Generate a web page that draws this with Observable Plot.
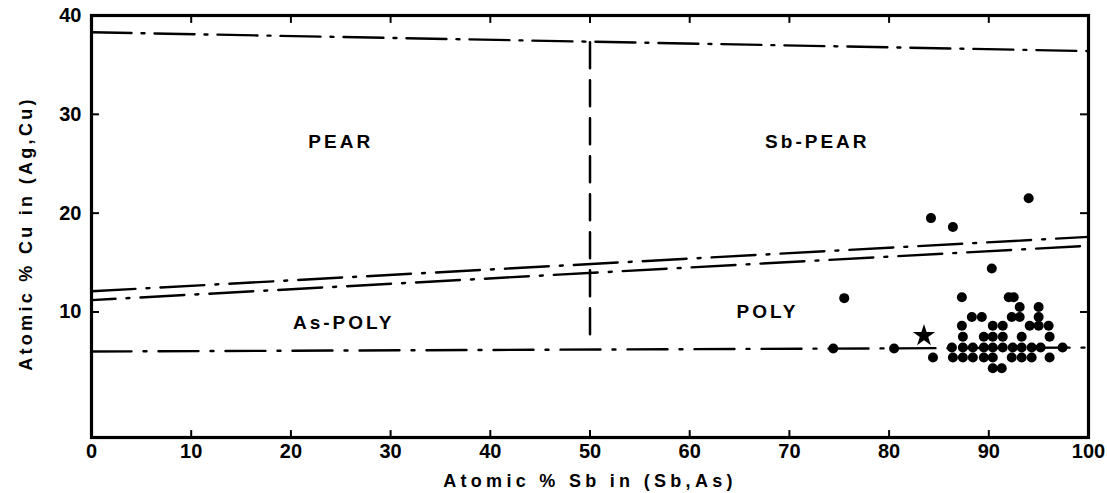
<!DOCTYPE html>
<html><head><meta charset="utf-8">
<script src="https://cdn.jsdelivr.net/npm/d3@7"></script>
<script src="https://cdn.jsdelivr.net/npm/@observablehq/plot@0.6"></script>
<style>body{margin:0;background:#fff}</style>
</head><body><div id="chart"></div>
<script>
// ---- data ----
const xTickLabels = [0, 10, 20, 30, 40, 50, 60, 70, 80, 90, 100];
const xInnerTicks = [10, 20, 30, 40, 50, 60, 70, 80, 90];
const yTickLabels = [10, 20, 30, 40];
const yInnerTicks = [10, 20, 30];

const xTitle = "Atomic % Sb in (Sb,As)";
const yTitle = "Atomic % Cu in (Ag,Cu)";

const regionNames = ["PEAR", "Sb-PEAR", "As-POLY", "POLY"];
const regionSb = [25, 72.8, 25.3, 67.8];
const regionCu = [27.2, 27.2, 8.9, 10.0];

const boundarySb = [0, 100];
const pearTopCu = [38.3, 36.4];
const polyUpperCu = [12.1, 17.6];
const polyLowerCu = [11.2, 16.7];
const polyBottomCu = [6.0, 6.4];
const divideSb = [50, 50];
const divideCu = [37.3, 6.7];

const ptSb = [74.4, 75.5, 80.5, 84.2, 86.4, 94.0, 90.3, 84.4,
  87.3, 92.0, 92.5,
  93.1, 95.0,
  88.3, 89.3, 92.3, 93.1, 95.0,
  87.3, 90.4, 91.4, 94.1, 95.0, 96.0,
  87.4, 89.5, 90.4, 91.4, 93.3, 96.1,
  86.3, 87.4, 88.4, 89.5, 90.4, 91.4, 92.4, 93.3, 94.3, 95.2, 97.4,
  86.4, 87.4, 88.4, 89.5, 90.4, 92.3, 93.3, 94.3, 96.1,
  90.4, 91.3];
const ptCu = [6.3, 11.4, 6.3, 19.5, 18.6, 21.5, 14.4, 5.4,
  11.5, 11.5, 11.5,
  10.5, 10.5,
  9.5, 9.5, 9.5, 9.5, 9.5,
  8.6, 8.6, 8.6, 8.6, 8.6, 8.6,
  7.5, 7.5, 7.5, 7.5, 7.5, 7.5,
  6.4, 6.4, 6.4, 6.4, 6.4, 6.4, 6.4, 6.4, 6.4, 6.4, 6.4,
  5.4, 5.4, 5.4, 5.4, 5.4, 5.4, 5.4, 5.4, 5.4,
  4.3, 4.3];
const starSb = [83.5];
const starCu = [7.6];

// ---- build ----
const seg = (xs, ys) => xs.map((x, i) => ({x, y: ys[i]}));
const pts = ptSb.map((x, i) => ({x, y: ptCu[i]}));
const stars = starSb.map((x, i) => ({x, y: starCu[i]}));
const regions = regionNames.map((t, i) => ({t, x: regionSb[i], y: regionCu[i]}));
const font = "'Liberation Sans', Arial, sans-serif";

const chart = Plot.plot({
  width: 1107, height: 493,
  marginLeft: 91, marginRight: 19, marginTop: 15, marginBottom: 56,
  x: {domain: [0, 100], axis: null},
  y: {domain: [-2.7, 40], axis: null},
  style: {fontFamily: font, background: "white", color: "black"},
  marks: [
    Plot.line(seg(boundarySb, pearTopCu), {x: "x", y: "y", stroke: "black", strokeWidth: 2.4, strokeDasharray: "40,10,3,10"}),
    Plot.line(seg(boundarySb, polyUpperCu), {x: "x", y: "y", stroke: "black", strokeWidth: 2.4, strokeDasharray: "44,11,3,11"}),
    Plot.line(seg(boundarySb, polyLowerCu), {x: "x", y: "y", stroke: "black", strokeWidth: 2.4, strokeDasharray: "44,11,3,11", strokeDashoffset: 20}),
    Plot.line(seg(boundarySb, polyBottomCu), {x: "x", y: "y", stroke: "black", strokeWidth: 2.4, strokeDasharray: "40,12,3,12"}),
    Plot.line(seg(divideSb, divideCu), {x: "x", y: "y", stroke: "black", strokeWidth: 2.5, strokeDasharray: "26,12"}),
    Plot.ruleX(xInnerTicks, {x: d => d, y1: -2.7, y2: -2.0, stroke: "black", strokeWidth: 2}),
    Plot.ruleX(xInnerTicks, {x: d => d, y1: 40, y2: 39.2, stroke: "black", strokeWidth: 2}),
    Plot.ruleY(yInnerTicks, {y: d => d, x1: 0, x2: 0.8, stroke: "black", strokeWidth: 2}),
    Plot.ruleY(yInnerTicks, {y: d => d, x1: 100, x2: 99.2, stroke: "black", strokeWidth: 2}),
    Plot.frame({stroke: "black", strokeWidth: 3.2}),
    Plot.dot(pts, {x: "x", y: "y", r: 5, fill: "black", stroke: "none"}),
    Plot.dot(stars, {x: "x", y: "y", r: 7, symbol: "star", fill: "black", stroke: "none"}),
    Plot.text(regions, {x: "x", y: "y", text: "t", fontSize: 19, fontWeight: "bold", fill: "black"}),
    Plot.axisX(xTickLabels, {tickSize: 0, tickPadding: 6, fontSize: 20, fontWeight: "bold", label: null}),
    Plot.axisY(yTickLabels, {tickSize: 0, tickPadding: 10, fontSize: 20, fontWeight: "bold", label: null}),
    Plot.text([xTitle], {text: d => d, frameAnchor: "bottom", textAnchor: "middle", dy: 49, fontSize: 18, fontWeight: "bold", fill: "black"}),
    Plot.text([yTitle], {text: d => d, frameAnchor: "left", textAnchor: "middle", dx: -65, dy: 7, rotate: -90, fontSize: 18, fontWeight: "bold", fill: "black"})
  ]
});
d3.select(chart).selectAll("text").each(function() {
  const s = this.textContent;
  if (s === xTitle) this.style.letterSpacing = "4.3px";
  else if (s === yTitle) this.style.letterSpacing = "3.3px";
  else if (regionNames.includes(s)) this.style.letterSpacing = "3px";
});
document.getElementById("chart").append(chart);
</script>
</body></html>
